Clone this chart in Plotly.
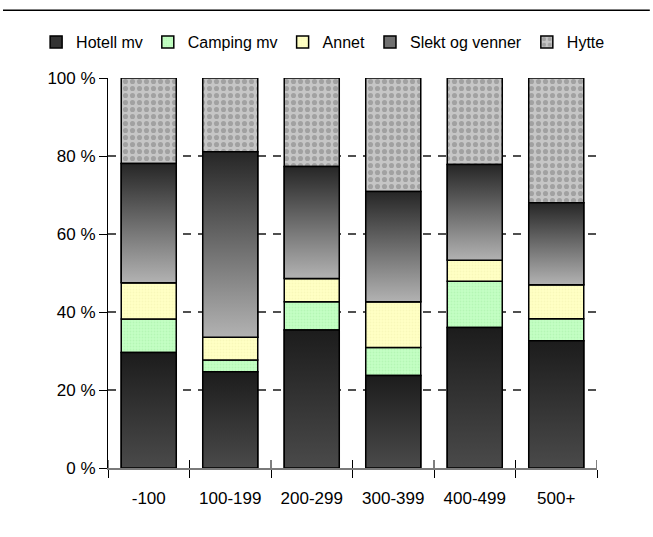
import plotly.graph_objects as go

categories = ["-100", "100-199", "200-299", "300-399", "400-499", "500+"]
hotell = [29.6, 24.7, 35.4, 23.7, 36.0, 32.6]
camping = [8.6, 3.0, 7.2, 7.2, 11.9, 5.7]
annet = [9.3, 5.8, 6.0, 11.7, 5.4, 8.7]
slekt = [30.6, 47.6, 28.7, 28.3, 24.5, 21.0]
hytte = [21.9, 18.9, 22.7, 29.1, 22.2, 32.0]
y_ticks = [0, 20, 40, 60, 80, 100]
y_ticktext = ["0 %", "20 %", "40 %", "60 %", "80 %", "100 %"]

FONT = "Liberation Sans, Arial, sans-serif"
BW = 0.675
xpos = list(range(len(categories)))
bounds = [i - 0.5 for i in range(len(categories) + 1)]

series = [
    ("Hotell mv", hotell),
    ("Camping mv", camping),
    ("Annet", annet),
    ("Slekt og venner", slekt),
    ("Hytte", hytte),
]

# cumulative bases
bases = {}
run = [0.0] * len(categories)
for name, vals in series:
    bases[name] = run[:]
    run = [r + v for r, v in zip(run, vals)]

styles = {
    "Hotell mv": dict(color="#333333"),
    "Camping mv": dict(color="#c4ffc4",
                       pattern=dict(shape=".", fgcolor="#a6eea6", bgcolor="#c4ffc4", size=3, solidity=0.3)),
    "Annet": dict(color="#ffffc0",
                  pattern=dict(shape=".", fgcolor="#f2f2b0", bgcolor="#ffffc4", size=3, solidity=0.3)),
    "Slekt og venner": dict(color="#707070"),
    "Hytte": dict(color="#bdbdbd",
                  pattern=dict(shape=".", fgcolor="#7c7c7c", bgcolor="#c6c6c6", size=7, solidity=0.42)),
}

fig = go.Figure()
for name, vals in series:
    st = styles[name]
    marker = dict(color=st["color"], line=dict(color="black", width=1.5))
    if "pattern" in st:
        marker["pattern"] = st["pattern"]
    fig.add_trace(go.Bar(
        x=xpos, y=vals, base=bases[name], name=name, width=BW,
        marker=marker, hoverinfo="skip",
    ))

# gradient overlays for Hotell and Slekt
grads = {
    "Hotell mv": [[0, "#4a4a4a"], [1, "#1c1c1c"]],
    "Slekt og venner": [[0, "#b2b2b2"], [1, "#262626"]],
}
for name, vals in series:
    if name not in grads:
        continue
    for i, v in enumerate(vals):
        b = bases[name][i]
        t = b + v
        fig.add_trace(go.Scatter(
            x=[i - BW / 2, i + BW / 2, i + BW / 2, i - BW / 2, i - BW / 2],
            y=[b, b, t, t, b],
            mode="lines", fill="toself",
            fillgradient=dict(type="vertical", colorscale=grads[name]),
            line=dict(color="black", width=1.5),
            showlegend=False, hoverinfo="skip",
        ))

# inside half of the category-boundary ticks (they cross the axis line)
shapes = [dict(type="line", xref="x", yref="y domain", x0=bx, x1=bx,
               y0=0, y1=8 / 390, line=dict(color="black", width=1), layer="above")
          for bx in bounds]
# rule across the top of the picture
shapes.append(dict(type="line", xref="paper", yref="paper",
                   x0=-0.2147, x1=1.108, y0=1.174, y1=1.174,
                   line=dict(color="black", width=1.5)))

fig.update_layout(
    width=653, height=537,
    margin=dict(l=108, r=56, t=78, b=69, autoexpand=False),
    paper_bgcolor="white", plot_bgcolor="white",
    barmode="overlay",
    font=dict(family=FONT, size=17, color="black"),
    showlegend=True,
    hovermode=False,
    legend=dict(
        orientation="h", xref="paper", yref="paper",
        x=-0.147, xanchor="left", y=1.0923, yanchor="middle",
        font=dict(family=FONT, size=16), itemwidth=30,
        traceorder="normal", bgcolor="rgba(0,0,0,0)",
    ),
    xaxis=dict(
        range=[-0.5, 5.5], tickvals=xpos, ticktext=categories,
        ticks="", showgrid=False, zeroline=False,
        showline=True, linecolor="#7a7a7a", linewidth=1.5,
        ticklabelstandoff=14, automargin=False,
        minor=dict(tickvals=bounds, ticks="outside", ticklen=8, tickcolor="black", tickwidth=1, showgrid=False),
    ),
    yaxis=dict(
        range=[0, 100], tickvals=y_ticks, ticktext=y_ticktext,
        ticks="outside", ticklen=8, tickcolor="black", tickwidth=1,
        showline=True, linecolor="black", linewidth=1,
        showgrid=True, gridcolor="#505050", gridwidth=1.5, griddash="8px,7px",
        zeroline=False, automargin=False,
    ),
    shapes=shapes,
)

fig.write_html("out.html", config={"displayModeBar": False},
               post_script="document.body.style.margin='0';")
